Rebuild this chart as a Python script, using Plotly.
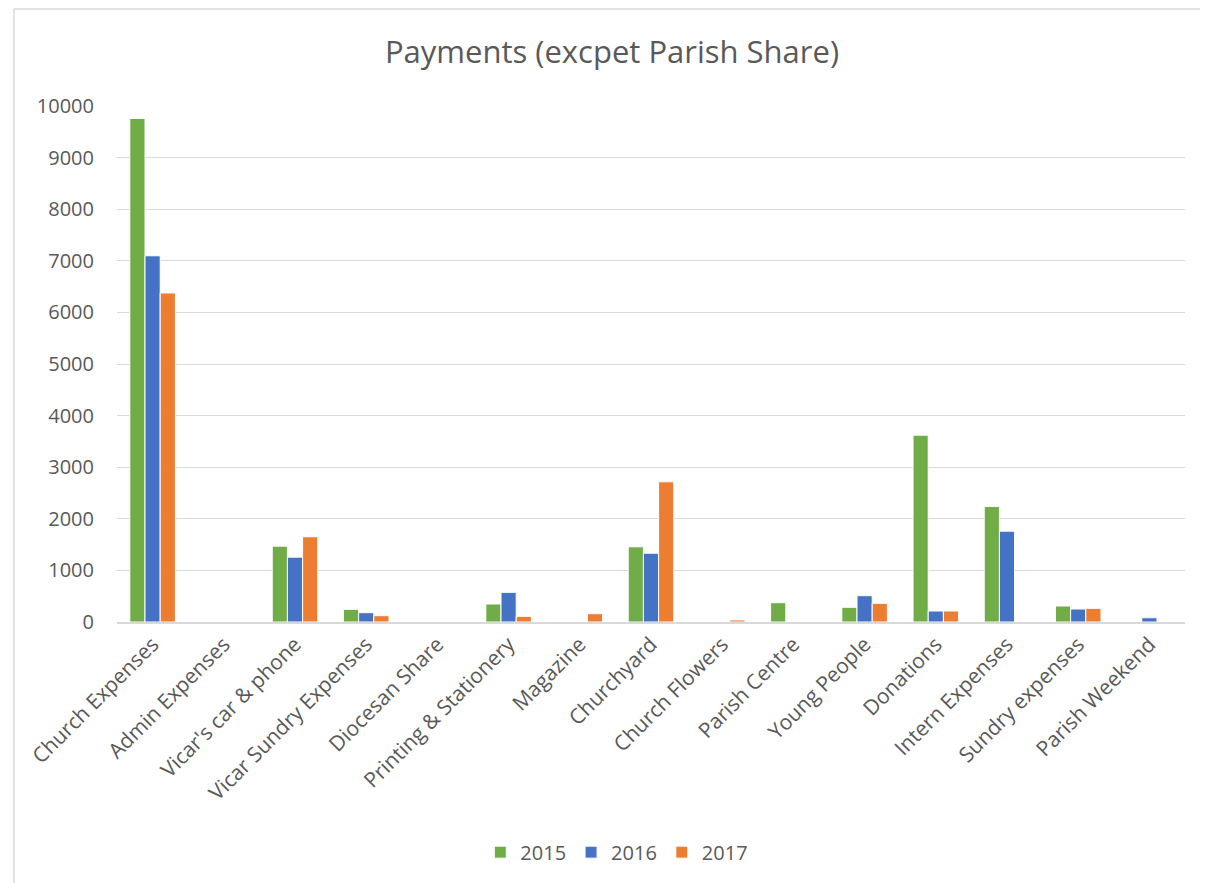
import plotly.graph_objects as go

categories = ["Church Expenses", "Admin Expenses", "Vicar's car & phone", "Vicar Sundry Expenses",
              "Diocesan Share", "Printing & Stationery", "Magazine", "Churchyard", "Church Flowers",
              "Parish Centre", "Young People", "Donations", "Intern Expenses", "Sundry expenses",
              "Parish Weekend"]
v2015 = [9760, 0, 1470, 246, 0, 349, 0, 1457, 0, 374, 285, 3620, 2238, 310, 0]
v2016 = [7097, 0, 1257, 180, 0, 575, 0, 1333, 0, 0, 510, 213, 1760, 252, 83]
v2017 = [6377, 0, 1652, 122, 0, 110, 161, 2717, 40, 0, 362, 213, 0, 265, 0]
years = ["2015", "2016", "2017"]
colors = ["#70AD47", "#4472C4", "#ED7D31"]

FONT = "Open Sans"
fig = go.Figure()
for name, vals, col in zip(years, [v2015, v2016, v2017], colors):
    fig.add_trace(go.Bar(x=categories, y=vals, name=name, marker_color=col,
                         marker_line_color="white", marker_line_width=1))

PW, PH = 1068, 516
ML, MT = 109, 98
fig.update_layout(
    width=1208, height=883,
    margin=dict(l=ML, r=1208 - ML - PW, t=MT, b=883 - MT - PH),
    paper_bgcolor="white", plot_bgcolor="white",
    barmode="group", bargap=0.36, bargroupgap=0.0,
    title=dict(text="Payments (excpet Parish Share)", x=0.5, xanchor="center",
               y=1 - 44 / 883, yanchor="middle",
               font=dict(family=FONT, size=31, color="#595959")),
    font=dict(family=FONT, size=20, color="#595959"),
    legend=dict(orientation="h", x=0.468, xanchor="center", y=-0.446, yanchor="middle",
                font=dict(family=FONT, size=20, color="#595959"), traceorder="normal",
                itemwidth=30),
    showlegend=True,
)
fig.update_yaxes(range=[0, 10000], dtick=1000, tickformat="d", showgrid=True,
                 gridcolor="#D9D9D9", gridwidth=1,
                 zeroline=False, showline=False, ticks="", ticklabelstandoff=22,
                 tickfont=dict(family=FONT, size=20, color="#595959"))
fig.update_xaxes(showline=True, linecolor="#D9D9D9", linewidth=1.5, tickangle=-45, ticks="",
                 tickfont=dict(family=FONT, size=21, color="#595959"))

# chart area border (left and top edges visible in the reference)
bx0 = (6 - ML) / PW
by_top = (MT + PH - 1) / PH
by_bot = (MT + PH - 883) / PH
fig.add_shape(type="line", xref="paper", yref="paper", x0=bx0, x1=bx0, y0=by_bot, y1=by_top,
              line=dict(color="#D9D9D9", width=1.5), layer="below")
fig.add_shape(type="line", xref="paper", yref="paper", x0=bx0, x1=(1300 - ML) / PW,
              y0=by_top, y1=by_top,
              line=dict(color="#D9D9D9", width=1.5), layer="below")

fig.write_html("out.html")
